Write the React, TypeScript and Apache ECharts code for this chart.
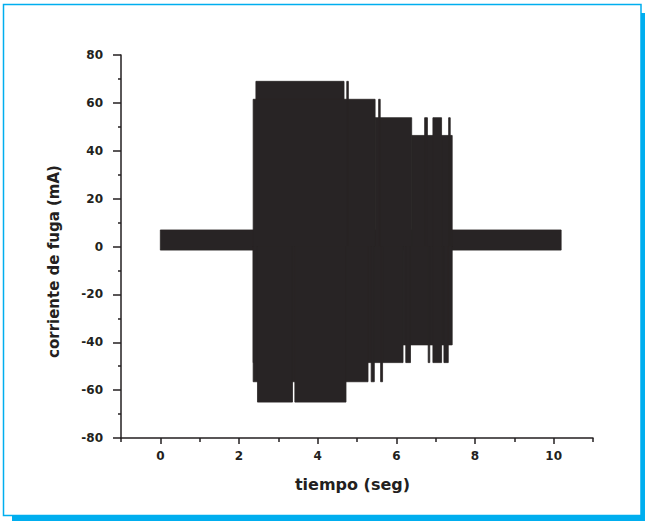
import React, { useEffect, useRef } from "react";
import * as echarts from "echarts";

// Time axis (s) and current axis (mA)
const xMajorTicks = [0, 2, 4, 6, 8, 10];
const xMinorTicks = [-1, 1, 3, 5, 7, 9, 11];

// Signal envelope: [tStart, tEnd, low, high]
const baselineBand = [[0, 10.19, -1.5, 6.9]];
// Positive half of the oscillation: [tStart, tEnd, 0, peak]
const upperSteps = [
  [2.43, 4.67, 0, 69],
  [2.36, 5.46, 0, 61.5],
  [5.46, 6.39, 0, 53.8],
  [6.39, 7.42, 0, 46.4],
  [4.74, 4.78, 0, 69],
  [5.55, 5.59, 0, 61.5],
  [6.72, 6.79, 0, 53.8],
  [6.93, 7.15, 0, 53.8],
  [7.33, 7.37, 0, 53.8],
];
// Negative half of the oscillation: [tStart, tEnd, trough, 0]
const lowerSteps = [
  [2.36, 6.17, -48.5, 0],
  [6.17, 7.42, -41.1, 0],
  [2.36, 5.28, -56.5, 0],
  [2.47, 3.36, -65, 0],
  [3.42, 4.72, -65, 0],
  [6.24, 6.36, -48.5, 0],
  [6.81, 6.85, -48.5, 0],
  [6.93, 7.15, -48.5, 0],
  [7.21, 7.32, -48.5, 0],
  [5.36, 5.44, -56.5, 0],
  [5.6, 5.65, -56.5, 0],
];

const INK = "#231f20";
const FILL = "#282425";
const CYAN = "#00aeef";
const FONT = "DejaVu Sans";

function renderBlock(params: any, api: any) {
  const t0 = api.value(0);
  const t1 = api.value(1);
  const lo = api.value(2);
  const hi = api.value(3);
  const p0 = api.coord([t0, hi]);
  const p1 = api.coord([t1, lo]);
  return {
    type: "rect",
    shape: { x: p0[0], y: p0[1], width: p1[0] - p0[0], height: p1[1] - p0[1] },
    style: { fill: FILL, stroke: FILL, lineWidth: 0.8 },
  };
}

function blockSeries(name: string, data: number[][]) {
  return {
    name,
    type: "custom",
    xAxisIndex: 0,
    yAxisIndex: 0,
    renderItem: renderBlock,
    encode: { x: [0, 1], y: [2, 3] },
    data,
    silent: true,
  };
}

export default function App() {
  const ref = useRef<HTMLDivElement>(null);
  useEffect(() => {
    if (!ref.current) return;
    const chart = echarts.init(ref.current, undefined, { renderer: "svg" });
    const labelStyle = { color: INK, fontFamily: FONT, fontWeight: "bold" as const, fontSize: 12 };
    chart.setOption({
      animation: false,
      backgroundColor: "#ffffff",
      grid: { left: 121, right: 52, top: 55, bottom: 87, containLabel: false },
      xAxis: [
        {
          type: "value",
          min: -1,
          max: 11,
          position: "bottom",
          name: "tiempo (seg)",
          nameLocation: "middle",
          nameGap: 38,
          nameTextStyle: { ...labelStyle, fontSize: 16, padding: [0, 9, 0, 0] },
          axisLine: { show: true, onZero: false, lineStyle: { color: INK, width: 1.5 } },
          axisTick: { show: true, length: 6, lineStyle: { color: INK, width: 1.5 }, customValues: xMajorTicks },
          axisLabel: { ...labelStyle, margin: 12, customValues: xMajorTicks },
          splitLine: { show: false },
        },
        {
          type: "value",
          min: -1,
          max: 11,
          position: "bottom",
          axisLine: { show: false, onZero: false },
          axisTick: { show: true, length: 4, lineStyle: { color: INK, width: 1.5 }, customValues: xMinorTicks },
          axisLabel: { show: false },
          splitLine: { show: false },
        },
      ],
      yAxis: {
        type: "value",
        min: -80,
        max: 80,
        interval: 20,
        name: "corriente de fuga (mA)",
        nameLocation: "middle",
        nameRotate: 90,
        nameGap: 60,
        nameTextStyle: { ...labelStyle, fontSize: 15, padding: [0, 30, 0, 0] },
        axisLine: { show: true, onZero: false, lineStyle: { color: INK, width: 1.5 } },
        axisTick: { show: true, length: 8, lineStyle: { color: INK, width: 1.5 } },
        minorTick: { show: true, splitNumber: 2, length: 3, lineStyle: { color: INK, width: 1.5 } },
        axisLabel: { ...labelStyle, margin: 18 },
        splitLine: { show: false },
      },
      graphic: [
        {
          type: "rect",
          shape: { x: 3.5, y: 4.5, width: 637.5, height: 511 },
          style: { fill: "none", stroke: CYAN, lineWidth: 1.5 },
          silent: true,
        },
        {
          type: "rect",
          shape: { x: 641, y: 13, width: 4, height: 508 },
          style: { fill: CYAN },
          silent: true,
        },
        {
          type: "rect",
          shape: { x: 12, y: 516, width: 633, height: 5 },
          style: { fill: CYAN },
          silent: true,
        },
      ],
      series: [
        blockSeries("banda base", baselineBand),
        blockSeries("semiciclo positivo", upperSteps),
        blockSeries("semiciclo negativo", lowerSteps),
      ],
    });
    return () => chart.dispose();
  }, []);
  return (
    <div
      ref={ref}
      style={{ position: "absolute", left: 0, top: 0, width: 645, height: 525, background: "#fff" }}
    />
  );
}
